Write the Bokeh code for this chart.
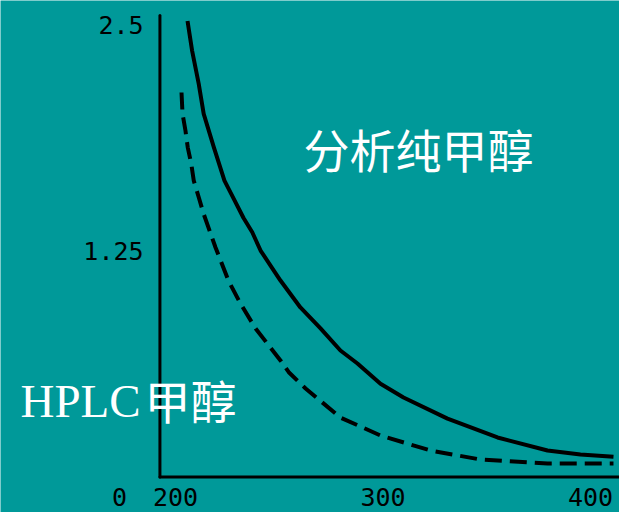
from bokeh.plotting import figure
from bokeh.models import Range1d
from bokeh.core.properties import value
from bokeh.embed import file_html
from bokeh.resources import INLINE

# Absorbance vs wavelength (nm) for two grades of methanol
solid_x = [205.8, 208.0, 211.2, 213.6, 218.5, 223.6, 228.1, 232.8, 237.0, 241.0,
           245.8, 250.6, 260.2, 269.9, 279.5, 287.7, 298.8, 309.9, 331.1, 355.2,
           379.3, 395.2, 411.1]
solid_y = [2.52, 2.356, 2.172, 2.006, 1.821, 1.637, 1.536, 1.43, 1.351, 1.25,
           1.167, 1.084, 0.935, 0.819, 0.697, 0.625, 0.513, 0.437, 0.32, 0.216,
           0.144, 0.122, 0.11]

dashed_x = [202.9, 203.4, 204.8, 205.9, 207.6, 208.8, 211.2, 213.5, 219.3, 225.5,
            231.3, 238.6, 250.6, 254.6, 262.7, 279.5, 298.8, 322.9, 347.0, 379.3,
            411.1]
dashed_y = [2.124, 2.006, 1.914, 1.821, 1.73, 1.637, 1.545, 1.455, 1.267, 1.084,
            0.957, 0.819, 0.642, 0.577, 0.487, 0.326, 0.227, 0.144, 0.094, 0.072,
            0.072]

x_ticks = [200, 300, 400]
x_tick_labels = ["200", "300", "400"]
y_ticks = [1.25, 2.5]
y_tick_labels = ["1.25", "2.5"]
origin_label = "0"

label_analytical = "分析纯甲醇"
label_hplc_latin = "HPLC"
label_hplc_cjk = "甲醇"

# Layout: where the hand-drawn axes sit, in data units
AXIS_X = 192.5          # wavelength at which the vertical axis is drawn
AXIS_Y = -0.003         # absorbance at which the horizontal axis is drawn
AXIS_TOP = 2.55
X_LABEL_Y = -0.113      # row of the wavelength labels
Y_LABEL_X = 184.6       # right edge of the absorbance labels
ORIGIN_LABEL_X = 173.0

BG = "#009999"
TICK_FONT = "DejaVu Sans Mono"
TICK_SIZE = "25px"

X0, X1 = 115.66, 414.0
Y0, Y1 = -0.199, 2.633

p = figure(width=619, height=512, output_backend="svg", toolbar_location=None,
           x_range=Range1d(X0, X1), y_range=Range1d(Y0, Y1),
           x_axis_location=None, y_axis_location=None,
           min_border=0, min_border_left=0, min_border_right=0,
           min_border_top=0, min_border_bottom=0)

p.background_fill_color = BG
p.border_fill_color = BG
p.outline_line_color = None
p.grid.visible = False

# axes
p.segment(x0=[AXIS_X, AXIS_X], y0=[AXIS_Y, AXIS_Y], x1=[AXIS_X, X1], y1=[AXIS_TOP, AXIS_Y],
          line_color="black", line_width=3, line_cap="round")

# tick labels
p.text(x=x_ticks, y=[X_LABEL_Y] * len(x_ticks), text=x_tick_labels,
       text_font=value(TICK_FONT), text_font_size=value(TICK_SIZE),
       text_color="black", text_align="center", text_baseline="middle")
p.text(x=[Y_LABEL_X] * len(y_ticks), y=y_ticks, text=y_tick_labels,
       text_font=value(TICK_FONT), text_font_size=value(TICK_SIZE),
       text_color="black", text_align="right", text_baseline="middle")
p.text(x=[ORIGIN_LABEL_X], y=[X_LABEL_Y], text=[origin_label],
       text_font=value(TICK_FONT), text_font_size=value(TICK_SIZE),
       text_color="black", text_align="center", text_baseline="middle")

# curves
p.line(solid_x, solid_y, line_color="black", line_width=4, line_join="round")
p.line(dashed_x, dashed_y, line_color="black", line_width=4, line_dash="17 8")

# series captions
p.text(x=[317.1], y=[1.817], text=[label_analytical],
       text_font=value("Noto Sans CJK SC"), text_font_size=value("46px"),
       text_color="white", text_align="center", text_baseline="middle")
p.text(x=[125.3], y=[0.415], text=[label_hplc_latin],
       text_font=value("Liberation Serif"), text_font_size=value("47px"),
       text_color="white", text_align="left", text_baseline="middle")
p.text(x=[185.1], y=[0.43], text=[label_hplc_cjk],
       text_font=value("Noto Sans CJK SC"), text_font_size=value("46px"),
       text_color="white", text_align="left", text_baseline="middle")

open("out.html", "w").write(file_html(p, INLINE))
